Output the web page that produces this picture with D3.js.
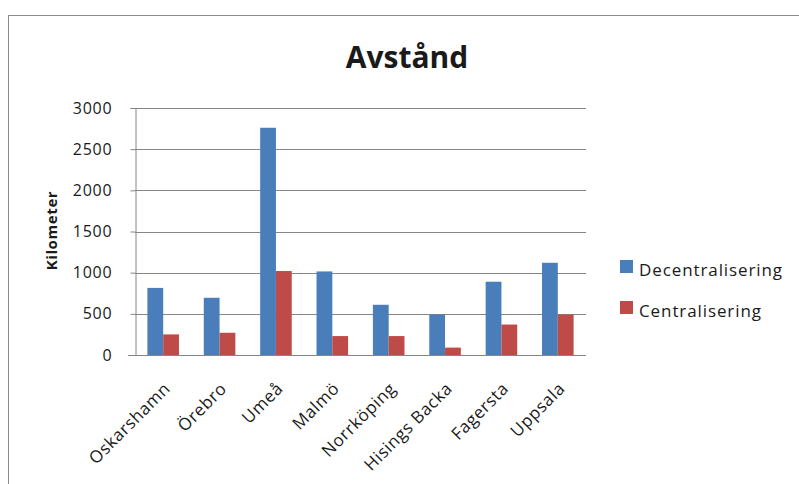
<!DOCTYPE html>
<html>
<head>
<meta charset="utf-8">
<script src="https://cdn.jsdelivr.net/npm/d3@7"></script>
<style>
  body { margin: 0; background: #fff; }
  svg text { font-family: "Open Sans", sans-serif; fill: #1a1a1a; }
</style>
</head>
<body>
<div id="chart"></div>
<script>
// data
var cities = ["Oskarshamn", "Örebro", "Umeå", "Malmö", "Norrköping", "Hisings Backa", "Fagersta", "Uppsala"];
var decentralisering = [815, 695, 2760, 1015, 610, 490, 890, 1120];
var centralisering = [250, 270, 1020, 230, 230, 90, 370, 490];
var seriesNames = ["Decentralisering", "Centralisering"];
var seriesColors = ["#4a7ebb", "#be4b48"];
var yTicks = [0, 500, 1000, 1500, 2000, 2500, 3000];

var width = 799, height = 484;
var margin = {top: 108, right: 213, bottom: 129, left: 135};

var svg = d3.select("#chart").append("svg")
    .attr("width", width)
    .attr("height", height);

// outer chart border (cropped at right and bottom)
svg.append("rect")
    .attr("x", 8.5).attr("y", 15.5)
    .attr("width", 820).attr("height", 500)
    .attr("fill", "none")
    .attr("stroke", "#8c8c8c")
    .attr("stroke-width", 1);

var g = svg.append("g")
    .attr("transform", "translate(" + margin.left + "," + margin.top + ")");

var plotW = width - margin.left - margin.right;
var plotH = height - margin.top - margin.bottom;

var x = d3.scaleBand().domain(cities).range([0, plotW]).paddingInner(0.44).paddingOuter(0.22);
var x1 = d3.scaleBand().domain(seriesNames).range([0, x.bandwidth()]);
var y = d3.scaleLinear().domain([0, 3000]).range([plotH, 0]);

// gridlines
g.append("g").selectAll("line")
    .data(yTicks.filter(function(d){ return d > 0; }))
    .enter().append("line")
    .attr("x1", 0).attr("x2", plotW)
    .attr("y1", function(d){ return Math.round(y(d)) + 0.5; })
    .attr("y2", function(d){ return Math.round(y(d)) + 0.5; })
    .attr("stroke", "#868686");

// y axis
var yAxis = g.append("g")
    .attr("transform", "translate(0.5,0)")
    .call(d3.axisLeft(y).tickValues(yTicks).tickFormat(d3.format("d")).tickSize(5).tickPadding(18));
yAxis.select(".domain").attr("stroke", "#868686");
yAxis.selectAll(".tick line").attr("stroke", "#868686");
yAxis.selectAll("text")
    .style("font-size", "16px")
    .style("letter-spacing", "0.8px")
    .attr("fill", "#1a1a1a");

// bars
var rows = cities.map(function(c, i){
  return {city: c, values: [decentralisering[i], centralisering[i]]};
});
var groups = g.selectAll(".grp").data(rows).enter().append("g")
    .attr("class", "grp")
    .attr("transform", function(d){ return "translate(" + x(d.city) + ",0)"; });
groups.selectAll("rect")
    .data(function(d){ return d.values.map(function(v, i){ return {name: seriesNames[i], value: v, i: i}; }); })
    .enter().append("rect")
    .attr("x", function(d){ return x1(d.name); })
    .attr("y", function(d){ return y(d.value); })
    .attr("width", x1.bandwidth())
    .attr("height", function(d){ return plotH - y(d.value); })
    .attr("fill", function(d){ return seriesColors[d.i]; });

// x axis
var xAxis = g.append("g")
    .attr("transform", "translate(0," + (Math.round(plotH) + 0.5) + ")")
    .call(d3.axisBottom(x).tickSize(0).tickPadding(0));
xAxis.select(".domain").attr("stroke", "#868686").attr("d", "M-7,0H" + plotW);
xAxis.selectAll("text")
    .style("font-size", "17px")
    .style("letter-spacing", "0.6px")
    .attr("fill", "#1a1a1a")
    .attr("text-anchor", "end")
    .attr("dy", "0.35em")
    .attr("transform", "translate(4,30) rotate(-45)");

// y axis title
svg.append("text")
    .attr("transform", "translate(57," + (margin.top + plotH / 2 - 1) + ") rotate(-90)")
    .attr("text-anchor", "middle")
    .style("font-size", "15px")
    .style("font-weight", "bold")
    .style("letter-spacing", "0.6px")
    .text("Kilometer");

// chart title
svg.append("text")
    .attr("x", 407).attr("y", 68)
    .attr("text-anchor", "middle")
    .style("font-size", "30px")
    .style("font-weight", "bold")
    .attr("fill", "#111")
    .text("Avstånd");

// legend
var legend = svg.append("g").attr("transform", "translate(620,260)");
var li = legend.selectAll("g").data(seriesNames).enter().append("g")
    .attr("transform", function(d, i){ return "translate(0," + (i * 41) + ")"; });
li.append("rect")
    .attr("width", 13).attr("height", 13)
    .attr("fill", function(d, i){ return seriesColors[i]; });
li.append("text")
    .attr("x", 19).attr("y", 16)
    .style("font-size", "17px")
    .style("letter-spacing", "0.9px")
    .text(function(d){ return d; });
</script>
</body>
</html>
